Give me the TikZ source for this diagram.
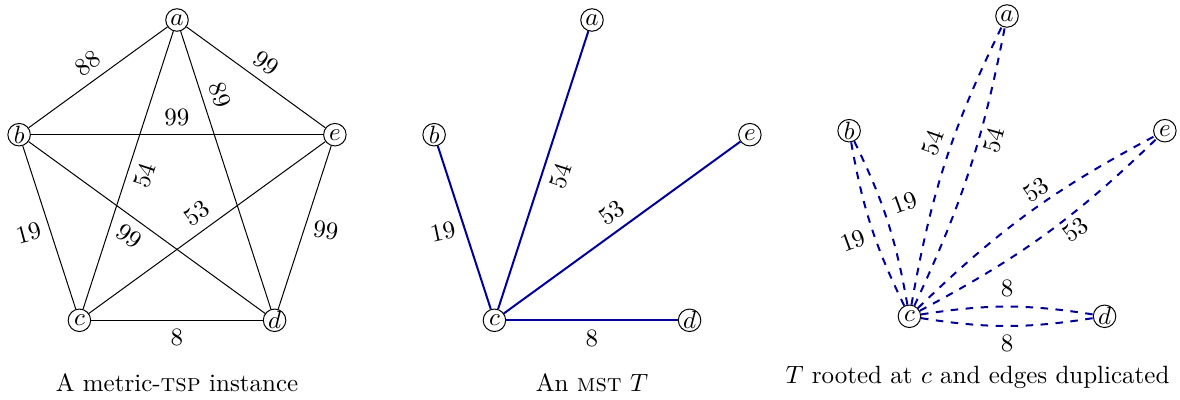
\documentclass[tikz,border=0pt]{standalone}
\usetikzlibrary{positioning}
\definecolor{TreeBlue}{HTML}{000099}
\newcommand{\pentrad}{66.4pt}

\begin{document}
\begin{tikzpicture}[
  vertex/.style={circle,draw,inner sep=0pt,minimum size=9pt},
  treeedge/.style={draw=TreeBlue,thick},
  dupedge/.style={draw=TreeBlue,thick,dashed}
]
\useasboundingbox (-70.8pt,-85.6pt) rectangle (401.2pt,74.4pt);

% the metric instance
\node[vertex] (ga) at (90:\pentrad) {$a$};
\node[vertex] (gb) at (162:\pentrad) {$b$};
\node[vertex] (gc) at (234:\pentrad) {$c$};
\node[vertex] (gd) at (306:\pentrad) {$d$};
\node[vertex] (ge) at (18:\pentrad) {$e$};
\draw (ga) -- node[sloped,above] {88} (gb);
\draw (ga) -- node[sloped,above] {99} (ge);
\draw (ga) -- node[sloped,above,pos=0.25] {89} (gd);
\draw (ga) -- node[sloped,below] {54} (gc);
\draw (gb) -- node[above] {99} (ge);
\draw (gb) -- node[left,rotate=15] {19} (gc);
\draw (gb) -- node[sloped,below,pos=0.47] {99} (gd);
\draw (gc) -- node[sloped,above] {53} (ge);
\draw (gc) -- node[below] {8} (gd);
\draw (ge) -- node[right,rotate=-8] {99} (gd);
\node[anchor=base] (cap1) at (0,-82.4pt) {A metric-\textsc{tsp} instance};

% the spanning tree
\begin{scope}[xshift=166pt]
\node[vertex] (ta) at (90:\pentrad) {$a$};
\node[vertex] (tb) at (162:\pentrad) {$b$};
\node[vertex] (tc) at (234:\pentrad) {$c$};
\node[vertex] (td) at (306:\pentrad) {$d$};
\node[vertex] (te) at (18:\pentrad) {$e$};
\draw[treeedge] (tc) -- node[left,rotate=12] {19} (tb);
\draw[treeedge] (tc) -- node[sloped,below] {54} (ta);
\draw[treeedge] (tc) -- node[sloped,above] {53} (te);
\draw[treeedge] (tc) -- node[below] {8} (td);
\node[anchor=base] (cap2) at (0,-82.4pt) {An \textsc{mst} $T$};
\end{scope}

% doubled tree
\begin{scope}[xshift=332pt,yshift=1.6pt]
\node[vertex] (da) at (90:\pentrad) {$a$};
\node[vertex] (db) at (162:\pentrad) {$b$};
\node[vertex] (dc) at (234:\pentrad) {$c$};
\node[vertex] (dd) at (306:\pentrad) {$d$};
\node[vertex] (de) at (18:\pentrad) {$e$};
\draw[dupedge] (dc) to[bend left=8] node[left,rotate=20,pos=0.45] {19} (db);
\draw[dupedge] (dc) to[bend right=8] node[right,rotate=20,pos=0.57] {19} (db);
\draw[dupedge] (dc) to[bend left=8] node[sloped,above,pos=0.55] {54} (da);
\draw[dupedge] (dc) to[bend right=7] node[sloped,below,pos=0.63,inner sep=2pt] {54} (da);
\draw[dupedge] (dc) to[bend left=8] node[sloped,above,pos=0.57,inner sep=2pt] {53} (de);
\draw[dupedge] (dc) to[bend right=8] node[sloped,below,pos=0.6,inner sep=2pt] {53} (de);
\draw[dupedge] (dc) to[bend left=9] node[above] {8} (dd);
\draw[dupedge] (dc) to[bend right=9] node[below] {8} (dd);
\node[anchor=base] (cap3) at (-11.8pt,-80.8pt) {$T$ rooted at $c$ and edges duplicated};
\end{scope}
\end{tikzpicture}
\end{document}
